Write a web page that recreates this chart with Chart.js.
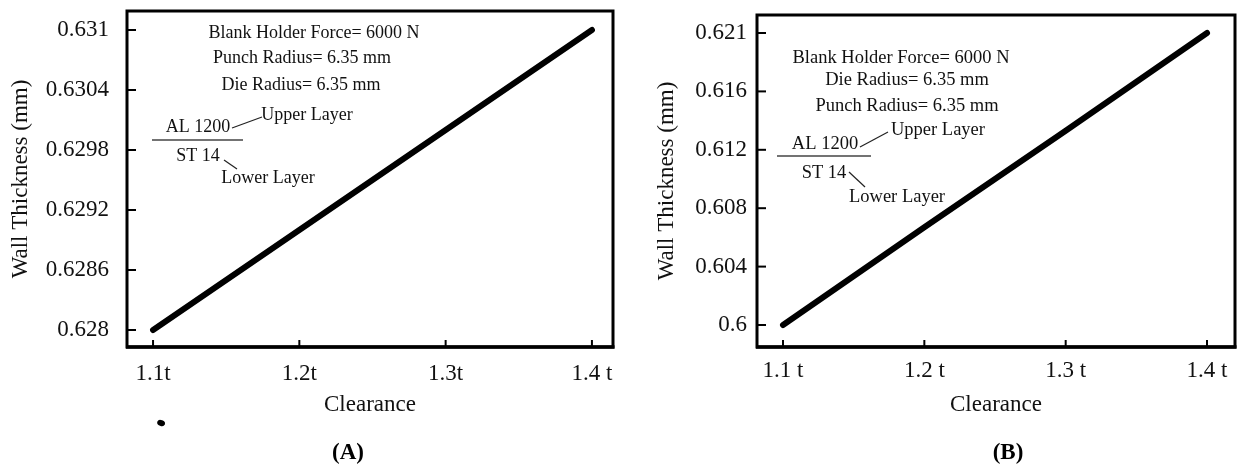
<!DOCTYPE html>
<html>
<head>
<meta charset="utf-8">
<script src="https://cdn.jsdelivr.net/npm/chart.js@4.4.1/dist/chart.umd.min.js"></script>
<style>
  body { margin: 0; background: #fff; width: 1241px; height: 467px; overflow: hidden; position: relative; }
  canvas { position: absolute; top: 0; }
  #chartA { left: 0; }
  #chartB { left: 620px; }
</style>
</head>
<body>
<canvas id="chartA" width="620" height="467"></canvas>
<canvas id="chartB" width="621" height="467"></canvas>
<script>
// values
var clearance = [1.1, 1.2, 1.3, 1.4];
var thicknessA = [0.628, 0.629, 0.630, 0.631];
var thicknessB = [0.600, 0.6067, 0.6133, 0.620];   // top tick of panel B is printed as 0.621

var xTickLabelsA = ['1.1t', '1.2t', '1.3t', '1.4 t'];
var xTickLabelsB = ['1.1 t', '1.2 t', '1.3 t', '1.4 t'];

var yTicksA = [0.628, 0.6286, 0.6292, 0.6298, 0.6304, 0.631];
var yTickLabelsA = ['0.628', '0.6286', '0.6292', '0.6298', '0.6304', '0.631'];
var yTicksB = [0.600, 0.604, 0.608, 0.612, 0.616, 0.620];
var yTickLabelsB = ['0.6', '0.604', '0.608', '0.612', '0.616', '0.621'];

// the small stray dot under panel A (outside the plot box)
var strayDotA = [{x: 1.1055, y: 0.62707}];

var SERIF = "'Liberation Serif', 'Times New Roman', serif";

function seg(ctx, x1, y1, x2, y2) {
  ctx.beginPath();
  ctx.moveTo(x1, y1);
  ctx.lineTo(x2, y2);
  ctx.stroke();
}

// frame, inward tick marks, text notes and panel letter
function panelPlugin(notes) {
  return {
    id: 'panel',
    afterDraw: function(chart) {
      var ctx = chart.ctx, a = chart.chartArea;
      var xs = chart.scales.x, ys = chart.scales.y;
      ctx.save();
      ctx.strokeStyle = '#000';
      ctx.lineWidth = 2;
      ys.ticks.forEach(function(t) {
        var y = ys.getPixelForValue(t.value);
        seg(ctx, a.left, y, a.left + 9, y);
      });
      xs.ticks.forEach(function(t) {
        var x = xs.getPixelForValue(t.value);
        seg(ctx, x, a.bottom, x, a.bottom - 7);
      });
      ctx.lineWidth = 3;
      ctx.strokeRect(a.left, a.top, a.right - a.left, a.bottom - a.top);
      ctx.lineWidth = 3.5;
      seg(ctx, a.left - 1, a.bottom, a.right + 1.5, a.bottom);

      // points that sit outside the chart area are skipped by Chart.js, so draw them here
      ctx.fillStyle = '#000';
      (notes.dots || []).forEach(function(d) {
        ctx.beginPath();
        ctx.ellipse(xs.getPixelForValue(d.x), ys.getPixelForValue(d.y), 4, 3, 0.4, 0, Math.PI * 2);
        ctx.fill();
      });

      ctx.fillStyle = '#111';
      ctx.textAlign = 'center';
      ctx.textBaseline = 'middle';
      ctx.font = notes.size + 'px ' + SERIF;
      notes.texts.forEach(function(t) { ctx.fillText(t[0], t[1], t[2]); });

      ctx.strokeStyle = '#444';
      ctx.lineWidth = 1.5;
      seg(ctx, notes.divider[0], notes.divider[1], notes.divider[2], notes.divider[1]);
      ctx.strokeStyle = '#222';
      ctx.lineWidth = 1.2;
      notes.leaders.forEach(function(l) { seg(ctx, l[0], l[1], l[2], l[3]); });

      ctx.fillStyle = '#000';
      ctx.font = 'bold 23px ' + SERIF;
      ctx.fillText(notes.panel[0], notes.panel[1], notes.panel[2]);
      ctx.restore();
    }
  };
}

function makePanel(id, c) {
  return new Chart(document.getElementById(id), {
    type: 'line',
    data: {
      datasets: [{
        data: clearance.map(function(x, i) { return {x: x, y: c.ys[i]}; }),
        borderColor: '#000',
        borderWidth: 6,
        borderCapStyle: 'round',
        borderJoinStyle: 'round',
        pointRadius: 0,
        tension: 0,
        fill: false
      }]
    },
    options: {
      responsive: false,
      animation: false,
      devicePixelRatio: 1,
      layout: {padding: c.padding},
      plugins: {legend: {display: false}, tooltip: {enabled: false}},
      scales: {
        x: {
          type: 'linear',
          min: c.xMin, max: c.xMax,
          grid: {display: false, drawTicks: false},
          border: {display: false},
          afterBuildTicks: function(s) { s.ticks = clearance.map(function(v) { return {value: v}; }); },
          afterFit: function(s) { s.height = 120; s.paddingLeft = 0; s.paddingRight = 0; },
          ticks: {
            autoSkip: false, maxRotation: 0, padding: c.xPad, color: '#111',
            font: {family: SERIF, size: 23},
            callback: function(v, i) { return c.xLabels[i]; }
          },
          title: {
            display: true, text: 'Clearance', color: '#111',
            font: {family: SERIF, size: 23},
            padding: {top: 0, bottom: 48}
          }
        },
        y: {
          type: 'linear',
          min: c.yMin, max: c.yMax,
          grid: {display: false, drawTicks: false},
          border: {display: false},
          afterBuildTicks: function(s) { s.ticks = c.yTicks.map(function(v) { return {value: v}; }); },
          afterFit: function(s) { s.width = c.yWidth; s.paddingTop = 0; s.paddingBottom = 0; },
          ticks: {
            autoSkip: false, padding: c.yPad, color: '#111',
            font: {family: SERIF, size: 23},
            callback: function(v, i) { return c.yLabels[i]; }
          },
          title: {
            display: true, text: 'Wall Thickness (mm)', color: '#111',
            font: {family: SERIF, size: 23},
            padding: {top: c.yTitlePad, bottom: 0}
          }
        }
      }
    },
    plugins: [panelPlugin(c.notes)]
  });
}

makePanel('chartA', {
  ys: thicknessA,
  xMin: 1.0822, xMax: 1.4144, yMin: 0.62783, yMax: 0.63119,
  xLabels: xTickLabelsA, yTicks: yTicksA, yLabels: yTickLabelsA,
  padding: {left: 0, right: 7, top: 11, bottom: 0},
  yWidth: 127, yPad: 18, xPad: 13, yTitlePad: 7,
  notes: {
    size: 18,
    dots: strayDotA,
    texts: [
      ['Blank Holder Force= 6000 N', 314, 33],
      ['Punch Radius= 6.35 mm', 302, 58],
      ['Die Radius= 6.35 mm', 301, 85],
      ['Upper Layer', 307, 115],
      ['AL 1200', 198, 127],
      ['ST 14', 198, 156],
      ['Lower Layer', 268, 178]
    ],
    divider: [152, 140, 243],
    leaders: [[232, 128, 262, 117], [224, 160, 237, 169]],
    panel: ['(A)', 348, 453]
  }
});

makePanel('chartB', {
  ys: thicknessB,
  xMin: 1.0816, xMax: 1.4198, yMin: 0.598493, yMax: 0.621233,
  xLabels: xTickLabelsB, yTicks: yTicksB, yLabels: yTickLabelsB,
  padding: {left: 0, right: 6, top: 15, bottom: 0},
  yWidth: 137, yPad: 10, xPad: 10, yTitlePad: 33,
  notes: {
    size: 18.5,
    texts: [
      ['Blank Holder Force= 6000 N', 281, 58],
      ['Die Radius= 6.35 mm', 287, 80],
      ['Punch Radius= 6.35 mm', 287, 106],
      ['Upper Layer', 318, 130],
      ['AL 1200', 205, 144],
      ['ST 14', 204, 173],
      ['Lower Layer', 277, 197]
    ],
    divider: [157, 156, 251],
    leaders: [[240, 147, 268, 132], [229, 172, 245, 187]],
    panel: ['(B)', 388, 453]
  }
});
</script>
</body>
</html>
